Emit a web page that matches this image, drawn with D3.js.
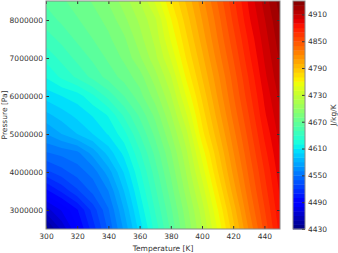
<!DOCTYPE html>
<html>
<head>
<meta charset="utf-8">
<script src="https://cdn.jsdelivr.net/npm/d3@7"></script>
<style>
  body { margin: 0; background: #fff; }
  svg { display: block; }
  text { font-family: "DejaVu Sans", sans-serif; font-size: 7.5px; fill: #333; }
</style>
</head>
<body>
<script>
// temperature columns [K] and pressure rows [Pa] of the cp grid
const temperatures = [300, 310, 320, 330, 340, 350, 360, 370, 380, 390, 400, 410, 420, 430, 440, 450];
const pressures = [2500000, 3000000, 3500000, 4000000, 4500000, 5000000, 5500000,
    6000000, 6500000, 7000000, 7500000, 8000000, 8500000];

// cp [J/kg/K], one row per pressure (bottom to top)
const cpRows = [
    [4435, 4462, 4489, 4515, 4542, 4572, 4604, 4634, 4662, 4691, 4719, 4751, 4786, 4821, 4853, 4884],
    [4465, 4481, 4499, 4524, 4549, 4580, 4612, 4641, 4668, 4696, 4725, 4759, 4794, 4829, 4859, 4888],
    [4497, 4512, 4528, 4543, 4560, 4590, 4620, 4648, 4675, 4704, 4734, 4769, 4804, 4836, 4865, 4892],
    [4527, 4536, 4545, 4554, 4575, 4601, 4628, 4655, 4682, 4711, 4744, 4779, 4812, 4842, 4870, 4896],
    [4549, 4553, 4557, 4574, 4594, 4613, 4638, 4663, 4689, 4718, 4754, 4787, 4819, 4848, 4876, 4900],
    [4570, 4580, 4590, 4600, 4611, 4626, 4650, 4673, 4699, 4727, 4766, 4796, 4826, 4854, 4882, 4904],
    [4587, 4595, 4603, 4611, 4621, 4642, 4662, 4683, 4709, 4739, 4774, 4804, 4833, 4860, 4888, 4908],
    [4604, 4610, 4615, 4628, 4644, 4660, 4676, 4695, 4719, 4751, 4782, 4811, 4839, 4866, 4892, 4913],
    [4621, 4632, 4642, 4653, 4664, 4674, 4685, 4706, 4729, 4762, 4790, 4817, 4844, 4871, 4897, 4918],
    [4633, 4643, 4653, 4662, 4672, 4682, 4698, 4717, 4741, 4771, 4797, 4824, 4850, 4877, 4901, 4922],
    [4645, 4653, 4662, 4670, 4678, 4688, 4706, 4723, 4751, 4778, 4804, 4830, 4856, 4882, 4905, 4926],
    [4655, 4662, 4669, 4676, 4683, 4697, 4712, 4728, 4759, 4785, 4810, 4835, 4862, 4888, 4909, 4930],
    [4662, 4668, 4675, 4681, 4691, 4705, 4720, 4742, 4769, 4792, 4816, 4841, 4867, 4892, 4914, 4935],
];

const xTicks = [300, 320, 340, 360, 380, 400, 420, 440];
const yTicks = [3000000, 4000000, 5000000, 6000000, 7000000, 8000000];
const cbTicks = [4430, 4490, 4550, 4610, 4670, 4730, 4790, 4850, 4910];
const levelMin = 4430;
const levelMax = 4940;
const levelStep = 10;

const width = 338;
const height = 253;
const plot = { x0: 46, x1: 280, y0: 1, y1: 229 };
const bar = { x0: 293, x1: 305 };

const svg = d3.select("body").append("svg")
    .attr("width", width)
    .attr("height", height);

const x = d3.scaleLinear().domain([300, 450]).range([plot.x0, plot.x1]);
const y = d3.scaleLinear().domain([2500000, 8500000]).range([plot.y1, plot.y0]);

// matplotlib "jet"
const jetR = d3.scaleLinear().domain([0, 0.35, 0.66, 0.89, 1]).range([0, 0, 1, 1, 0.5]).clamp(true);
const jetG = d3.scaleLinear().domain([0, 0.125, 0.375, 0.64, 0.91, 1]).range([0, 0, 1, 1, 0, 0]).clamp(true);
const jetB = d3.scaleLinear().domain([0, 0.11, 0.34, 0.65, 1]).range([0.5, 1, 1, 0, 0]).clamp(true);
const norm = d3.scaleLinear().domain([levelMin, levelMax]).range([0, 1]);
const jet = v => {
    const t = norm(v);
    return d3.rgb(255 * jetR(t), 255 * jetG(t), 255 * jetB(t)).formatHex();
};

const levels = d3.range(levelMin, levelMax, levelStep);

// filled contours
const nx = temperatures.length;
const ny = pressures.length;
const contours = d3.contours()
    .size([nx, ny])
    .thresholds(levels)(cpRows.flat());

// d3.contours puts value i at grid coordinate i + 0.5
const gx = d3.scaleLinear().domain([0.5, nx - 0.5])
    .range([x(temperatures[0]), x(temperatures[nx - 1])]);
const gy = d3.scaleLinear().domain([0.5, ny - 0.5])
    .range([y(pressures[0]), y(pressures[ny - 1])]);
const path = d3.geoPath(d3.geoTransform({
    point(px, py) {
        this.stream.point(gx(px), gy(py));
    },
}));

svg.append("clipPath")
    .attr("id", "plot-clip")
    .append("rect")
    .attr("x", plot.x0)
    .attr("y", plot.y0)
    .attr("width", plot.x1 - plot.x0)
    .attr("height", plot.y1 - plot.y0);

svg.append("g")
    .attr("clip-path", "url(#plot-clip)")
    .selectAll("path")
    .data(contours)
    .join("path")
    .attr("d", path)
    .attr("fill", d => jet(d.value + levelStep / 2));

// axes, ticks pointing inward on all four sides
function styleAxis(g) {
    g.select(".domain").remove();
    g.selectAll(".tick line").attr("stroke", "#333");
    g.selectAll(".tick text").attr("fill", "#333").attr("font-size", null).attr("font-family", null);
}

svg.append("g")
    .attr("transform", `translate(0,${plot.y1})`)
    .call(d3.axisBottom(x).tickValues(xTicks).tickSize(-3).tickPadding(5))
    .call(styleAxis);

svg.append("g")
    .attr("transform", `translate(0,${plot.y0})`)
    .call(d3.axisTop(x).tickValues(xTicks).tickSize(-3).tickFormat(""))
    .call(styleAxis);

svg.append("g")
    .attr("transform", `translate(${plot.x0},0)`)
    .call(d3.axisLeft(y).tickValues(yTicks).tickSize(-3).tickPadding(3).tickFormat(d3.format("d")))
    .call(styleAxis);

svg.append("g")
    .attr("transform", `translate(${plot.x1},0)`)
    .call(d3.axisRight(y).tickValues(yTicks).tickSize(-3).tickFormat(""))
    .call(styleAxis);

svg.append("rect")
    .attr("x", plot.x0)
    .attr("y", plot.y0)
    .attr("width", plot.x1 - plot.x0)
    .attr("height", plot.y1 - plot.y0)
    .attr("fill", "none")
    .attr("stroke", "#888");

svg.append("text")
    .attr("x", (plot.x0 + plot.x1) / 2)
    .attr("y", 250.5)
    .attr("text-anchor", "middle")
    .text("Temperature [K]");

svg.append("text")
    .attr("transform", `translate(6.5,${(plot.y0 + plot.y1) / 2}) rotate(-90)`)
    .attr("text-anchor", "middle")
    .text("Pressure [Pa]");

// colorbar
const yc = d3.scaleLinear().domain([levelMin, levelMax]).range([plot.y1, plot.y0]);

svg.append("g")
    .selectAll("rect")
    .data(levels)
    .join("rect")
    .attr("x", bar.x0)
    .attr("width", bar.x1 - bar.x0)
    .attr("y", d => yc(d + levelStep))
    .attr("height", d => yc(d) - yc(d + levelStep) + 0.4)
    .attr("fill", d => jet(d + levelStep / 2));

svg.append("g")
    .attr("transform", `translate(${bar.x1},0)`)
    .call(d3.axisRight(yc).tickValues(cbTicks).tickSize(-3).tickPadding(3).tickFormat(d3.format("d")))
    .call(styleAxis);

svg.append("rect")
    .attr("x", bar.x0)
    .attr("y", plot.y0)
    .attr("width", bar.x1 - bar.x0)
    .attr("height", plot.y1 - plot.y0)
    .attr("fill", "none")
    .attr("stroke", "#888");

svg.append("text")
    .attr("transform", `translate(335.5,${(plot.y0 + plot.y1) / 2}) rotate(-90)`)
    .attr("text-anchor", "middle")
    .text("J/kg/K");
</script>
</body>
</html>
